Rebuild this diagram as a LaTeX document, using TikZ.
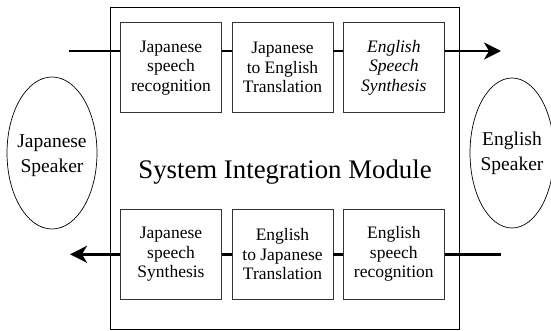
\documentclass[tikz,border=0pt]{standalone}
\usepackage{fontspec}
\setmainfont{Liberation Serif}
\usetikzlibrary{arrows.meta,shapes.geometric}
\begin{document}
\begin{tikzpicture}[x=1pt,y=-1pt,
  stage/.style={draw=black!80, line width=0.8pt, minimum width=101pt,
    minimum height=90pt, inner sep=0pt, align=center,
    font=\fontsize{17.5}{19.5}\selectfont},
  speaker/.style={draw, line width=0.7pt, ellipse, inner sep=0pt},
  speakertext/.style={align=center, font=\fontsize{19.5}{25}\selectfont},
  flow/.style={line width=2.6pt},
  tip/.style={-{Stealth[length=17pt,width=17pt,inset=5pt]}}]
  \fill[white] (0,0) rectangle (551,331);
  \clip (0,0) rectangle (551,331);

  % integration module frame
  \node[draw, line width=0.8pt, minimum width=349.3pt, minimum height=322.3pt,
    inner sep=0pt] (sim) at (284.6,168.2) {};
  \node[font=\fontsize{26.8}{30}\selectfont] (simlabel) at (285,172) {System Integration Module};

  % Japanese -> English chain
  \node[stage] (jsr) at (171,67.7) {Japanese\\speech\\recognition};
  \node[stage] (jet) at (282.5,67.7) {Japanese\\to English\\Translation};
  \node[stage, font=\fontsize{17.5}{19.5}\selectfont\itshape] (ess) at (393.8,67.7) {English\\Speech\\Synthesis};

  % English -> Japanese chain
  \node[stage] (jss) at (171,254.3) {Japanese\\speech\\Synthesis};
  \node[stage] (ejt) at (282.5,254.3) {English\\to Japanese\\Translation};
  \node[stage] (esr) at (393.8,254.3) {English\\speech\\recognition};

  % speakers
  \node[speaker, minimum width=90pt, minimum height=152pt] (jsp) at (52,153) {};
  \node[speakertext] (jsptext) at (52,156) {Japanese\\Speaker};
  \node[speaker, minimum width=84pt, minimum height=150pt] (esp) at (512,153) {};
  \node[speakertext] (esptext) at (512,153) {English\\Speaker};

  % signal flow, top row
  \coordinate (inJ) at (69,51);
  \coordinate (outE) at (501,51);
  \draw[flow] (inJ) -- (inJ -| jsr.west);
  \draw[flow] (jsr.east |- inJ) -- (jet.west |- inJ);
  \draw[flow] (jet.east |- inJ) -- (ess.west |- inJ);
  \draw[flow, tip] (ess.east |- inJ) -- (outE);

  % signal flow, bottom row
  \coordinate (inE) at (501,254.3);
  \coordinate (outJ) at (70,254.3);
  \draw[flow] (inE) -- (esr.east);
  \draw[flow] (esr.west) -- (ejt.east);
  \draw[flow] (ejt.west) -- (jss.east);
  \draw[flow, tip] (jss.west) -- (outJ);
\end{tikzpicture}
\end{document}
